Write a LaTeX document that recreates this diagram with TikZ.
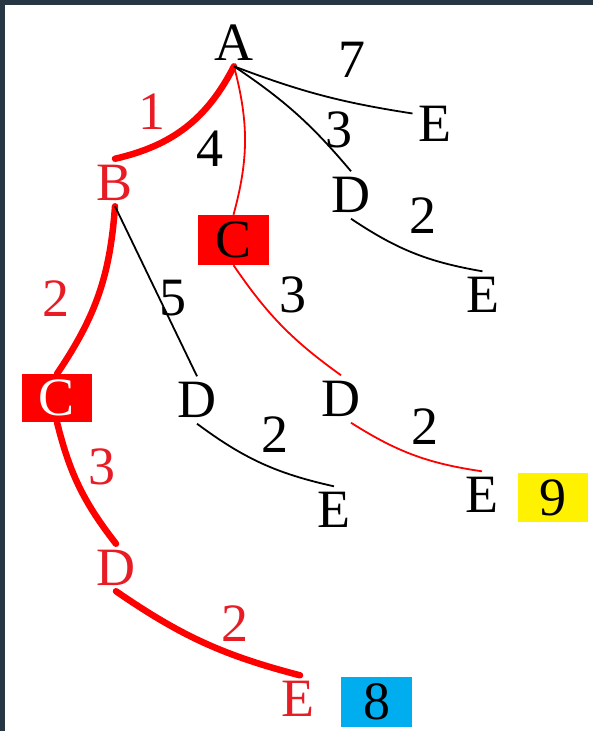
\documentclass[tikz,border=0pt]{standalone}
\usepackage{fontspec}
\setmainfont{Liberation Serif}
\definecolor{framecol}{RGB}{38,54,66}
\definecolor{txtred}{RGB}{232,28,36}
\definecolor{boxblue}{RGB}{0,174,239}
\begin{document}
\begin{tikzpicture}[x=1pt,y=1pt,
  font=\fontsize{54}{60}\selectfont,
  lbl/.style={inner sep=6pt, outer sep=0pt},
  num/.style={inner sep=0pt},
  rtxt/.style={text=txtred},
  cbox/.style={fill=red, inner sep=0pt, minimum width=71pt, minimum height=50pt},
  thickred/.style={draw=red, line width=6.5pt, line cap=round},
  thinred/.style={draw=red, line width=1.8pt},
  blk/.style={draw=black, line width=1.8pt}]
\fill[white] (0,0) rectangle (593,731);
\fill[framecol] (0,726) rectangle (593,731);
\fill[framecol] (0,0) rectangle (5,731);
\useasboundingbox (0,0) rectangle (593,731);

% letter nodes
\node[lbl] (A) at (234,688.5) {A};
\node[lbl] (E1) at (435,607.5) {E};
\node[lbl,rtxt] (B) at (115,548.5) {B};
\node[lbl] (D1) at (351,536) {D};
\node[cbox] (C1) at (233.5,491) {C};
\node[lbl] (E2) at (482.5,436) {E};
\node[cbox, text=white, minimum width=70pt, minimum height=48pt] (C2) at (57,333) {C};
\node[lbl] (D2) at (197,331) {D};
\node[lbl] (D4) at (341,332) {D};
\node[lbl] (E3) at (334,221) {E};
\node[lbl] (E5) at (482,236) {E};
\node[cbox, fill=yellow, minimum width=70pt, minimum height=49pt] (S9) at (553,233.5) {9};
\node[lbl,rtxt] (D3) at (116,163.5) {D};
\node[lbl,rtxt] (E4) at (298,32) {E};
\node[cbox, fill=boxblue, minimum width=71pt, minimum height=50pt] (S8) at (376.5,29) {8};

% weight labels
\node[num] (w7) at (352,671) {7};
\node[num] (w3a) at (339,601.5) {3};
\node[num,rtxt] (w1) at (152,619.5) {1};
\node[num] (w4) at (210,582.5) {4};
\node[num] (w2a) at (422.5,515.5) {2};
\node[num,rtxt] (w2b) at (56,432) {2};
\node[num] (w5) at (173,432.5) {5};
\node[num] (w3b) at (292.5,436) {3};
\node[num] (w2c) at (275,296.5) {2};
\node[num] (w2d) at (424.5,304.5) {2};
\node[num,rtxt] (w3c) at (102,264.5) {3};
\node[num,rtxt] (w2e) at (234.5,107.5) {2};

% connectors
\draw[thickred] (A.south) to[bend left=25] (B.north);
\draw[thinred] (A.south) to[bend left=15] (C1.north);
\draw[blk] (A.south) to[bend left=8] (D1.north);
\draw[blk] (A.south) to[bend right=6] ([yshift=10pt]E1.west);
\draw[blk] (D1.south) to[bend right=12] (E2.north);
\draw[thickred] (B.south) to[bend left=15] (C2.north);
\draw[blk] (B.south) to (D2.north);
\draw[thinred] (C1.south) to[bend right=10] (D4.north);
\draw[thickred] (C2.south) to[bend right=12] (D3.north);
\draw[blk] (D2.south) to[bend right=12] (E3.north);
\draw[thinred] ([xshift=10pt]D4.south) to[bend right=12] (E5.north);
\draw[thickred] (D3.south) to[bend right=10] ([xshift=2pt]E4.north);
\end{tikzpicture}
\end{document}
